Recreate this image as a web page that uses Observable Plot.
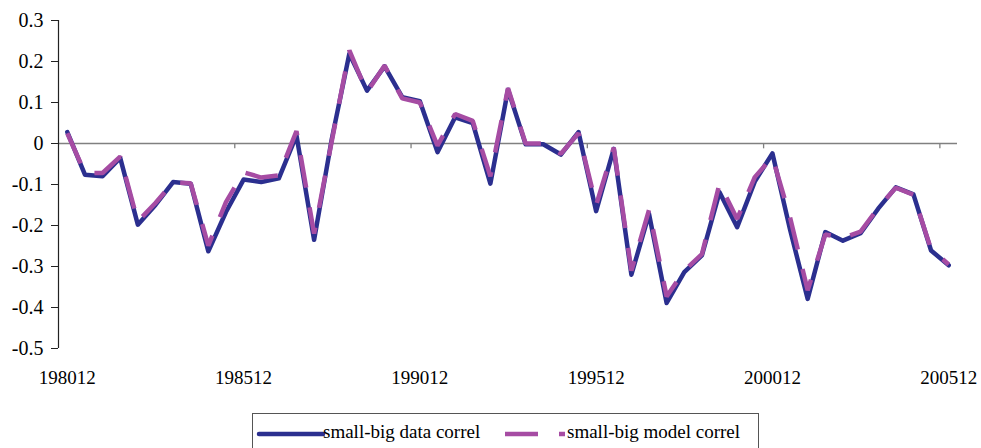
<!DOCTYPE html>
<html>
<head>
<meta charset="utf-8">
<script src="https://cdn.jsdelivr.net/npm/d3@7"></script>
<script src="https://cdn.jsdelivr.net/npm/@observablehq/plot@0.6"></script>
<style>
  html, body { margin: 0; padding: 0; background: #fff; }
  #wrap { position: relative; width: 981px; height: 448px; overflow: hidden; background: #fff; }
  #chart svg, #chart svg text { font-family: "Liberation Serif", "Times New Roman", Times, "DejaVu Serif", serif !important; }
  #legend { position: absolute; left: 252px; top: 413px; width: 507px; height: 50px; box-sizing: border-box;
            border: 1px solid #555; font-family: "Liberation Serif", "Times New Roman", Times, "DejaVu Serif", serif;
            font-size: 19px; color: #000; }
  #legend .item { position: absolute; white-space: nowrap; }
  #legend svg { position: absolute; }
</style>
</head>
<body>
<div id="wrap">
  <div id="chart"></div>
  <div id="legend"></div>
</div>
<script>
const dates = [
  "198012","198106","198112","198206","198212","198306","198312","198406","198412","198506",
  "198512","198606","198612","198706","198712","198806","198812","198906","198912","199006",
  "199012","199106","199112","199206","199212","199306","199312","199406","199412","199506",
  "199512","199606","199612","199706","199712","199806","199812","199906","199912","200006",
  "200012","200106","200112","200206","200212","200306","200312","200406","200412","200506",
  "200512"
];
const dataCorrel = [
  0.028, -0.076, -0.080, -0.035, -0.198, -0.150, -0.094, -0.098, -0.263, -0.167,
  -0.088, -0.094, -0.085, 0.020, -0.235, 0.010, 0.219, 0.129, 0.188, 0.113,
  0.103, -0.021, 0.064, 0.050, -0.098, 0.131, -0.002, -0.002, -0.027, 0.028,
  -0.165, -0.013, -0.320, -0.172, -0.389, -0.314, -0.273, -0.119, -0.204, -0.093,
  -0.024, -0.210, -0.379, -0.216, -0.237, -0.219, -0.159, -0.107, -0.124, -0.261,
  -0.297
];
const modelCorrel = [
  0.025, -0.072, -0.072, -0.032, -0.190, -0.145, -0.095, -0.097, -0.249, -0.143,
  -0.070, -0.083, -0.078, 0.030, -0.220, 0.005, 0.227, 0.125, 0.190, 0.110,
  0.100, -0.005, 0.072, 0.055, -0.080, 0.135, 0.000, 0.000, -0.025, 0.025,
  -0.150, -0.010, -0.310, -0.162, -0.373, -0.310, -0.270, -0.098, -0.184, -0.082,
  -0.033, -0.180, -0.358, -0.222, -0.230, -0.215, -0.157, -0.108, -0.125, -0.258,
  -0.295
];
const yTicks = [-0.5, -0.4, -0.3, -0.2, -0.1, 0, 0.1, 0.2, 0.3];
const xLabelIndex = [0, 10, 20, 30, 40, 50];
const xTickBoundaries = [9.5, 19.5, 29.5, 39.5, 49.5];
const seriesNames = ["small-big data correl", "small-big model correl"];
const seriesColors = ["#2B2F8F", "#A64CA3"];
const serif = "'Liberation Serif', 'Times New Roman', Times, 'DejaVu Serif', serif";

const chart = Plot.plot({
  width: 981,
  height: 410,
  marginLeft: 58,
  marginRight: 24,
  marginTop: 20,
  marginBottom: 62,
  x: {domain: [-0.5, dates.length - 0.5], axis: null},
  y: {domain: [-0.5, 0.3], axis: null},
  style: {fontFamily: serif, fontSize: "20px", color: "#000", background: "#fff"},
  marks: [
    Plot.ruleY([0], {stroke: "#808080", strokeWidth: 1.3}),
    Plot.ruleX(xTickBoundaries, {x: d => d, y1: 0, y2: -0.013, stroke: "#808080", strokeWidth: 1.3}),
    Plot.ruleX([-0.5], {stroke: "#222", strokeWidth: 1.2}),
    Plot.axisY({ticks: yTicks, tickSize: 7, tickPadding: 8, stroke: "#222",
      tickFormat: d => String(Math.round(d * 10) / 10), fontSize: 20, fontFamily: serif}),
    Plot.axisX({ticks: xLabelIndex, tickFormat: i => dates[i], tickSize: 0, tickPadding: 22, fontSize: 19, fontFamily: serif}),
    Plot.lineY(dataCorrel, {x: (d, i) => i, y: d => d, stroke: seriesColors[0], strokeWidth: 4.5,
      strokeLinejoin: "round", strokeLinecap: "round"}),
    Plot.lineY(modelCorrel, {x: (d, i) => i, y: d => d, stroke: seriesColors[1], strokeWidth: 4.5,
      strokeDasharray: "33,20", strokeLinejoin: "miter", strokeLinecap: "butt"})
  ]
});
document.getElementById("chart").appendChild(chart);

const legend = document.getElementById("legend");
legend.innerHTML = `
  <svg width="70" height="12" style="left:3px; top:14px">
    <line x1="3" y1="6" x2="67" y2="6" stroke="${seriesColors[0]}" stroke-width="4.5" stroke-linecap="round"/>
  </svg>
  <span class="item" style="left:70px; top:7px">${seriesNames[0]}</span>
  <svg width="70" height="12" style="left:251px; top:14px">
    <line x1="1" y1="6" x2="61" y2="6" stroke="${seriesColors[1]}" stroke-width="4.5" stroke-dasharray="33,21"/>
  </svg>
  <span class="item" style="left:314px; top:7px">${seriesNames[1]}</span>
`;
</script>
</body>
</html>
